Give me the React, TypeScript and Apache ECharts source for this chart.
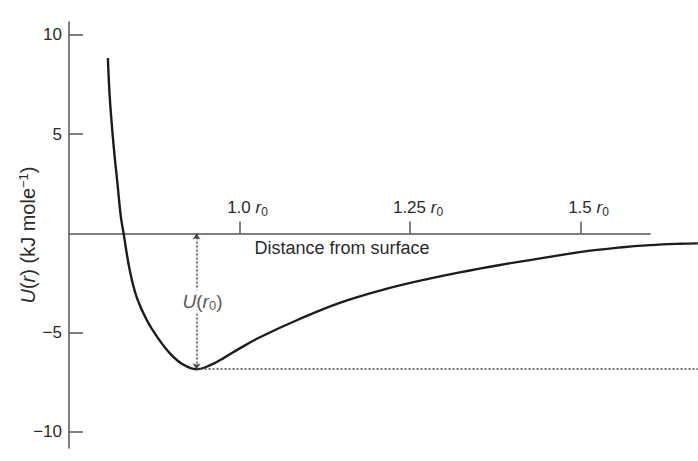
import React, { useEffect, useRef } from "react";
import * as echarts from "echarts";

// Distance from the surface, in units of r0
const R = [
  0.807, 0.810, 0.816, 0.821, 0.826, 0.830, 0.839, 0.849, 0.864, 0.879,
  0.898, 0.918, 0.937, 0.957, 0.979, 1.001, 1.030, 1.089, 1.147, 1.206,
  1.265, 1.323, 1.382, 1.441, 1.499, 1.558, 1.602, 1.646, 1.672,
];
// Potential energy U(r), kJ mole^-1
const U = [
  8.83, 6.73, 4.21, 2.53, 0.85, 0.01, -1.84, -3.18, -4.36, -5.20,
  -6.04, -6.62, -6.84, -6.64, -6.23, -5.78, -5.23, -4.30, -3.50, -2.88,
  -2.38, -1.96, -1.59, -1.26, -0.94, -0.71, -0.59, -0.52, -0.50,
];

const X_TICKS = [1.0, 1.25, 1.5];
const X_TICK_LABELS = ["1.0", "1.25", "1.5"];
const Y_TICKS = [-10, -5, 5, 10];
const Y_TICK_LABELS = ["\u221210", "\u22125", "5", "10"];

const X_MIN = 0.75;
const X_MAX = 1.6723;
const AXIS_END = 1.6019;
const Y_MIN = -10.81;
const Y_MAX = 10.65;

const FONT = "'Liberation Sans', Arial, Helvetica, sans-serif";
const TEXT = "#2b2b2b";
const AXIS = "#555";

export default function App() {
  const ref = useRef<HTMLDivElement>(null);

  useEffect(() => {
    if (!ref.current) return;
    const chart = echarts.init(ref.current, null, { renderer: "svg" });

    let iMin = 0;
    U.forEach((u, i) => {
      if (u < U[iMin]) iMin = i;
    });
    const rMin = R[iMin];
    const uMin = U[iMin];

    chart.setOption({
      animation: false,
      backgroundColor: "#fff",
      textStyle: { fontFamily: FONT, color: TEXT },
      grid: [
        // plotting area
        { left: 69, right: 0, top: 22, bottom: 13, containLabel: false, outerBoundsMode: "none" },
        // band whose lower edge is the U = 0 line, carrying the distance axis
        { left: 69, right: 48, top: 22, bottom: 227.5, containLabel: false, outerBoundsMode: "none" },
      ],
      xAxis: [
        {
          type: "value",
          gridIndex: 0,
          min: X_MIN,
          max: X_MAX,
          show: false,
        },
        {
          type: "value",
          gridIndex: 1,
          min: X_MIN,
          max: AXIS_END,
          position: "bottom",
          axisLine: { show: true, onZero: false, lineStyle: { color: AXIS, width: 1.5 } },
          splitLine: { show: false },
          axisTick: {
            show: true,
            inside: true,
            length: 12,
            customValues: X_TICKS,
            lineStyle: { color: AXIS, width: 1.5 },
          },
          axisLabel: {
            show: true,
            inside: true,
            margin: 16,
            customValues: X_TICKS,
            formatter: (v: number) => {
              const i = X_TICKS.findIndex((t) => Math.abs(t - v) < 1e-6);
              return i < 0 ? "" : `{sp|}{n|${X_TICK_LABELS[i]}}{r| r}{s|0}`;
            },
            rich: {
              sp: { width: 16 },
              n: { fontSize: 17, color: TEXT, fontFamily: FONT },
              r: { fontSize: 17, color: TEXT, fontFamily: FONT, fontStyle: "italic" },
              s: { fontSize: 12, color: TEXT, fontFamily: FONT, padding: [8, 0, 0, 0] },
            },
          },
          name: "Distance from surface",
          nameLocation: "middle",
          nameGap: 5,
          nameMoveOverlap: false,
          nameTextStyle: {
            fontSize: 18,
            color: TEXT,
            fontFamily: FONT,
            padding: [0, 35, 0, 0],
          },
        },
      ],
      yAxis: [
        {
          type: "value",
          gridIndex: 0,
          min: Y_MIN,
          max: Y_MAX,
          axisLine: { show: true, onZero: false, lineStyle: { color: AXIS, width: 1.5 } },
          splitLine: { show: false },
          axisTick: {
            show: true,
            inside: true,
            length: 14,
            customValues: Y_TICKS,
            lineStyle: { color: AXIS, width: 1.5 },
          },
          axisLabel: {
            show: true,
            margin: 7,
            fontSize: 17,
            color: TEXT,
            fontFamily: FONT,
            customValues: Y_TICKS,
            formatter: (v: number) => {
              const i = Y_TICKS.findIndex((t) => Math.abs(t - v) < 1e-6);
              return i < 0 ? "" : Y_TICK_LABELS[i];
            },
          },
          name: "{i|U}{t|(}{i|r}{t|) (kJ mole}{sup|\u22121}{t|)}",
          nameLocation: "middle",
          nameRotate: 90,
          nameGap: 30,
          nameMoveOverlap: false,
          nameTextStyle: {
            rich: {
              i: { fontSize: 20, color: TEXT, fontFamily: FONT, fontStyle: "italic" },
              t: { fontSize: 20, color: TEXT, fontFamily: FONT },
              sup: { fontSize: 13, color: TEXT, fontFamily: FONT, padding: [0, 0, 9, 0] },
            },
          },
        },
        { type: "value", gridIndex: 1, min: 0, max: 1, show: false },
      ],
      series: [
        {
          type: "line",
          xAxisIndex: 0,
          yAxisIndex: 0,
          data: R.map((r, i) => [r, U[i]]),
          symbol: "none",
          smooth: 0.4,
          silent: true,
          lineStyle: { color: "#1c1c1c", width: 2.4 },
          z: 3,
          markLine: {
            silent: true,
            symbol: "none",
            label: { show: false },
            lineStyle: { type: [2, 2], color: "#444", width: 1.5 },
            data: [
              [
                { coord: [rMin, 0], symbol: "arrow", symbolSize: 6 },
                { coord: [rMin, uMin], symbol: "arrow", symbolSize: 6 },
              ],
              [
                { coord: [rMin, uMin], symbol: "none" },
                { coord: [X_MAX, uMin], symbol: "none" },
              ],
            ],
          },
        },
        {
          // well depth label on the dotted line
          type: "scatter",
          xAxisIndex: 0,
          yAxisIndex: 0,
          data: [[rMin, uMin / 2]],
          symbolSize: 0,
          silent: true,
          z: 5,
          label: {
            show: true,
            position: "inside",
            offset: [6, 0],
            backgroundColor: "#fff",
            padding: [2, 1, 2, 1],
            formatter: "{i|U}{t|(}{i|r}{s|0}{t|)}",
            rich: {
              i: { fontSize: 19, color: TEXT, fontFamily: FONT, fontStyle: "italic" },
              t: { fontSize: 19, color: TEXT, fontFamily: FONT },
              s: { fontSize: 13, color: TEXT, fontFamily: FONT, padding: [8, 0, 0, 0] },
            },
          },
        },
      ],
    });

    return () => chart.dispose();
  }, []);

  return (
    <div
      ref={ref}
      style={{ position: "fixed", left: 0, top: 0, width: 698, height: 461 }}
    />
  );
}
